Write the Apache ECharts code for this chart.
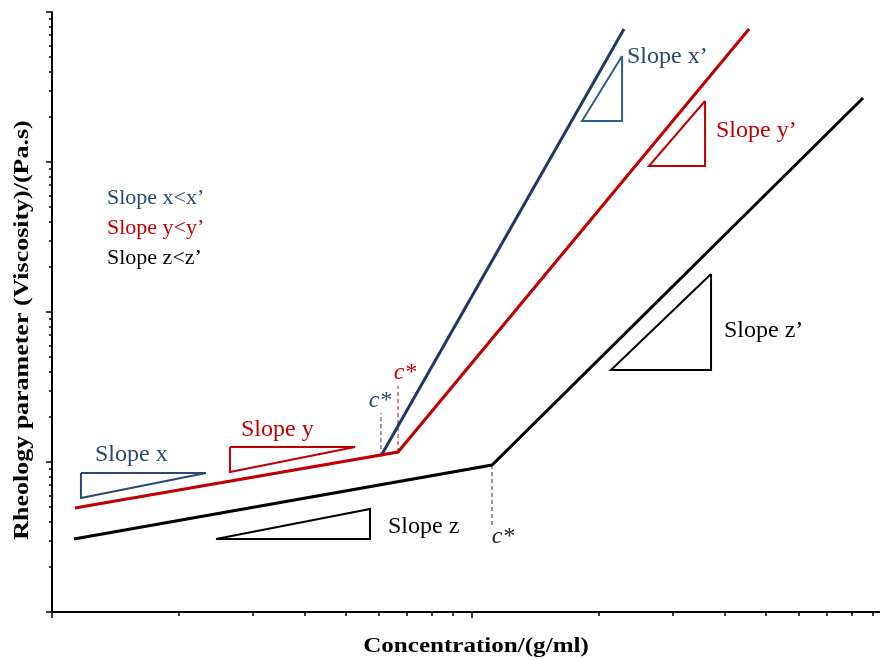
<!DOCTYPE html>
<html>
<head>
<meta charset="utf-8">
<title>Rheology parameter vs concentration</title>
<script src="https://cdn.jsdelivr.net/npm/echarts@6/dist/echarts.min.js"></script>
<style>
  html, body { margin: 0; padding: 0; background: #ffffff; }
  #chart { width: 880px; height: 660px; }
</style>
</head>
<body>
<div id="chart"></div>
<script>
// ---- axis ranges (log–log) ----
const xRange = [1, 93.6];
const yRange = [1, 10000];

// tick positions on the log axes
const xMinorTicks = [1, 2, 3, 4, 5, 6, 7, 8, 9, 10, 20, 30, 40, 50, 60, 70, 80, 90];
const xMajorTicks = [1, 10];
const yMinorTicks = [1, 2, 3, 4, 5, 6, 7, 8, 9, 10, 20, 30, 40, 50, 60, 70, 80, 90,
  100, 200, 300, 400, 500, 600, 700, 800, 900, 1000, 2000, 3000, 4000, 5000, 6000,
  7000, 8000, 9000, 10000];
const yMajorTicks = [1, 10, 100, 1000, 10000];

// ---- the three viscosity curves: [concentration, viscosity] ----
// x runs under y below its knee, so only its steep branch is drawn
const curveX = [[6.07, 10.96], [23.0, 7702]];
const curveY = [[1.134, 4.94], [6.665, 11.66], [45.66, 7702]];
const curveZ = [[1.128, 3.066], [11.16, 9.55], [85.3, 2671]];

// ---- c* markers (vertical dashed guides from each knee) ----
const cStarX = [[6.07, 10.96], [6.07, 21.2]];
const cStarY = [[6.665, 11.66], [6.665, 32.1]];
const cStarZ = [[11.16, 9.55], [11.16, 3.745]];

// ---- slope triangles (closed outlines) ----
const triX  = [[1.172, 8.45], [2.326, 8.45], [1.172, 5.75], [1.172, 8.45]];
const triY  = [[2.653, 12.59], [5.266, 12.59], [2.653, 8.58], [2.653, 12.59]];
const triZ  = [[2.457, 3.066], [5.716, 3.066], [5.716, 4.86], [2.457, 3.066]];
const triX2 = [[22.76, 5089], [22.76, 1877], [18.28, 1877], [22.76, 5089]];
const triY2 = [[35.87, 2551], [35.87, 940.6], [26.38, 940.6], [35.87, 2551]];
const triZ2 = [[37.07, 179.2], [37.07, 41.06], [21.42, 41.06], [37.07, 179.2]];

// ---- text ----
const xTitle = 'Concentration/(g/ml)';
const yTitle = 'Rheology parameter (Viscosity)/(Pa.s)';
const noteLines = ['Slope x<x\u2019', 'Slope y<y\u2019', 'Slope z<z\u2019'];

const NAVY = '#1f3868';
const NAVY_TXT = '#2a4677';
const TEAL = '#2d5f8d';
const RED = '#c00000';
const BLACK = '#000000';
const SERIF = '"Liberation Serif", "Times New Roman", "DejaVu Serif", serif';

const chart = echarts.init(document.getElementById('chart'), null, { renderer: 'canvas' });

function logAxis(range, ticks, len, showLine, extra) {
  return Object.assign({
    type: 'log',
    logBase: 10,
    min: range[0],
    max: range[1],
    axisLine: { show: showLine, onZero: false, lineStyle: { color: '#000', width: 2 } },
    axisTick: { show: true, inside: false, length: len, customValues: ticks,
                lineStyle: { color: '#000', width: 1.5 } },
    axisLabel: { show: false },
    splitLine: { show: false },
    minorTick: { show: false },
    minorSplitLine: { show: false }
  }, extra || {});
}

function curve(name, data, color, width, z) {
  return {
    name, type: 'line', data, showSymbol: false, symbol: 'none', z: z || 3,
    lineStyle: { color, width, cap: 'butt', join: 'miter' },
    animation: false, silent: true
  };
}
function dashed(name, data, color) {
  return {
    name, type: 'line', data, showSymbol: false, symbol: 'none', z: 2,
    lineStyle: { color, width: 1, type: [4, 3] },
    animation: false, silent: true
  };
}
function tri(name, data, color) {
  return {
    name, type: 'line', data, showSymbol: false, symbol: 'none', z: 2,
    lineStyle: { color, width: 2, join: 'miter' },
    animation: false, silent: true
  };
}

function label(text, x, y, color, size, opts) {
  return Object.assign({
    type: 'text', x, y, silent: true, z: 10,
    style: {
      text, fill: color, font: (opts && opts.font) || (size + 'px ' + SERIF),
      textAlign: (opts && opts.align) || 'left', textVerticalAlign: 'middle'
    }
  }, (opts && opts.el) || {});
}

const option = {
  animation: false,
  backgroundColor: '#ffffff',
  grid: { left: 52, right: 0, top: 12, bottom: 48, containLabel: false },
  xAxis: [
    logAxis(xRange, xMinorTicks, 4, true, { position: 'bottom' }),
    logAxis(xRange, xMajorTicks, 6, false, { position: 'bottom', offset: 0 })
  ],
  yAxis: [
    logAxis(yRange, yMinorTicks, 3, true, { position: 'left' }),
    logAxis(yRange, yMajorTicks, 6, false, { position: 'left', offset: 0 })
  ],
  series: [
    curve('x', curveX, NAVY, 3, 3),
    curve('y', curveY, RED, 3, 4),
    curve('z', curveZ, BLACK, 3, 3),
    dashed('c* x', cStarX, NAVY),
    dashed('c* y', cStarY, RED),
    dashed('c* z', cStarZ, '#333333'),
    tri('slope x', triX, NAVY_TXT),
    tri('slope y', triY, RED),
    tri('slope z', triZ, BLACK),
    tri('slope x\u2019', triX2, TEAL),
    tri('slope y\u2019', triY2, RED),
    tri('slope z\u2019', triZ2, BLACK)
  ],
  graphic: [
    label(noteLines[0], 107, 198, NAVY_TXT, 22),
    label(noteLines[1], 107, 228, RED, 22),
    label(noteLines[2], 107, 258, BLACK, 22),
    label('Slope x', 95, 455, NAVY_TXT, 24),
    label('Slope y', 241, 430, RED, 24),
    label('Slope z', 388, 527, BLACK, 24),
    label('Slope x\u2019', 627, 57, NAVY_TXT, 24),
    label('Slope y\u2019', 716, 131, RED, 24),
    label('Slope z\u2019', 724, 331, BLACK, 24),
    label('c*', 380, 401, NAVY_TXT, 24, { align: 'center', font: 'italic 24px ' + SERIF }),
    label('c*', 405, 373, RED, 24, { align: 'center', font: 'italic 24px ' + SERIF }),
    label('c*', 503, 537, '#222222', 24, { align: 'center', font: 'italic 24px ' + SERIF }),
    label(xTitle, 476, 646, BLACK, 22, { align: 'center', font: 'bold 22px ' + SERIF,
      el: { scaleX: 1.14 } }),
    label(yTitle, 22, 330, BLACK, 22, { align: 'center', font: 'bold 22px ' + SERIF,
      el: { rotation: Math.PI / 2, scaleX: 1.18 } })
  ]
};

chart.setOption(option);
</script>
</body>
</html>
